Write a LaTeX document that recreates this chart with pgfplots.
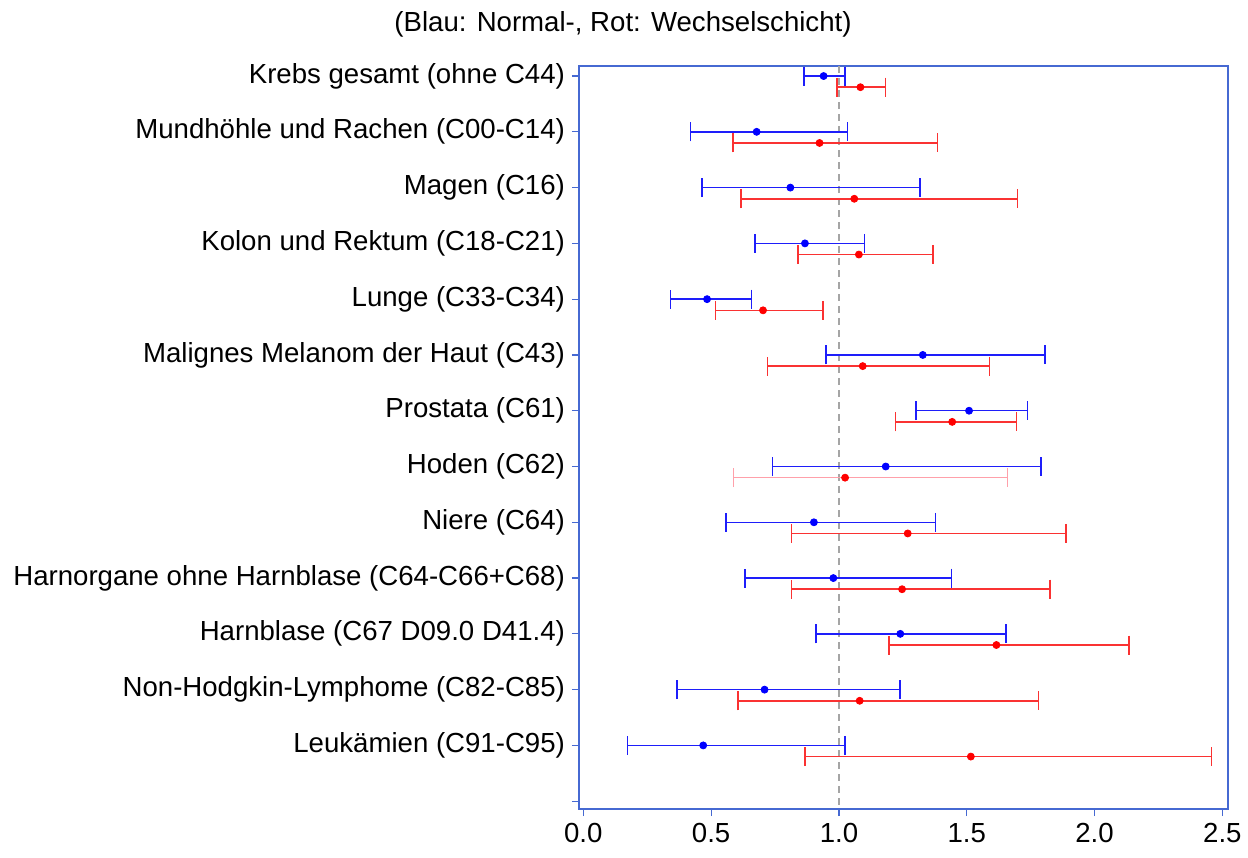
\documentclass[border=0pt]{standalone}
\usepackage{pgfplots}
\usepackage{pgfplotstable}
\pgfplotsset{compat=1.18}
\usepackage{fontspec}
\setmainfont{Liberation Sans}
\definecolor{axblue}{RGB}{70,105,210}
\definecolor{barblue}{RGB}{30,30,250}
\definecolor{barred}{RGB}{250,50,50}
\definecolor{barpink}{RGB}{255,160,170}
\definecolor{refgray}{RGB}{165,165,165}

\pgfplotstableread{
y est lo hi
0 0.940 0.864 1.024
1 0.678 0.419 1.033
2 0.810 0.464 1.317
3 0.867 0.672 1.100
4 0.484 0.341 0.657
5 1.328 0.950 1.807
6 1.509 1.302 1.738
7 1.183 0.741 1.790
8 0.902 0.559 1.378
9 0.978 0.633 1.440
10 1.240 0.910 1.653
11 0.709 0.366 1.238
12 0.469 0.172 1.024
}\blueT

\pgfplotstableread{
y est lo hi
0.2 1.084 0.993 1.183
1.2 0.924 0.586 1.386
2.2 1.060 0.617 1.698
3.2 1.078 0.840 1.367
4.2 0.703 0.517 0.938
5.2 1.093 0.721 1.588
6.2 1.443 1.221 1.695
8.2 1.269 0.814 1.888
9.2 1.247 0.814 1.826
10.2 1.616 1.195 2.134
11.2 1.081 0.605 1.781
12.2 1.516 0.867 2.457
}\redT

\pgfplotstableread{
y est lo hi
7.2 1.024 0.588 1.660
}\redH

\begin{document}
\begin{tikzpicture}
\useasboundingbox (-289.5pt,-24pt) rectangle (334.5pt,404.5pt);
\begin{axis}[
  at={(162.25pt,185.75pt)}, anchor=center,
  scale only axis, width=324.5pt, height=371.5pt,
  xmin=-0.017, xmax=2.522,
  ymin=-0.18, ymax=13.14, y dir=reverse,
  axis line style={axblue, line width=0.6pt},
  tick style={axblue, line width=0.6pt},
  tick align=outside, major tick length=3.5pt,
  xtick pos=bottom, ytick pos=left,
  xtick={0,0.5,1,1.5,2,2.5},
  ytick={0,1,2,3,4,5,6,7,8,9,10,11,12,13},
  yticklabels={Krebs gesamt (ohne C44),
    Mundhöhle und Rachen (C00-C14),
    Magen (C16),
    Kolon und Rektum (C18-C21),
    Lunge (C33-C34),
    Malignes Melanom der Haut (C43),
    Prostata (C61),
    Hoden (C62),
    Niere (C64),
    Harnorgane ohne Harnblase (C64-C66+C68),
    Harnblase (C67 D09.0 D41.4),
    Non-Hodgkin-Lymphome (C82-C85),
    Leukämien (C91-C95),{}},
  /pgf/number format/assume math mode=true,
  xticklabel style={/pgf/number format/.cd, fixed, fixed zerofill, precision=1},
  ticklabel style={font=\fontsize{13.8}{16}\selectfont, text=black},
  clip=false,
]
\addplot[refgray, line width=0.7pt, dash pattern=on 3.5pt off 2.5pt] coordinates {(1,-0.18) (1,13.14)};

\addplot[only marks, mark=*, mark size=1.75pt, mark options={fill=blue, draw=blue},
  error bars/.cd, x dir=both, x explicit,
  error bar style={barblue, line width=0.75pt},
  error mark options={barblue, mark size=4.75pt, line width=0.75pt, rotate=90}]
  table[x=est, y=y, x error plus expr=\thisrow{hi}-\thisrow{est}, x error minus expr=\thisrow{est}-\thisrow{lo}] {\blueT};

\addplot[only marks, mark=*, mark size=1.75pt, mark options={fill=red, draw=red},
  error bars/.cd, x dir=both, x explicit,
  error bar style={barred, line width=0.75pt},
  error mark options={barred, mark size=4.75pt, line width=0.75pt, rotate=90}]
  table[x=est, y=y, x error plus expr=\thisrow{hi}-\thisrow{est}, x error minus expr=\thisrow{est}-\thisrow{lo}] {\redT};

\addplot[only marks, mark=*, mark size=1.75pt, mark options={fill=red, draw=red},
  error bars/.cd, x dir=both, x explicit,
  error bar style={barpink, line width=0.75pt},
  error mark options={barpink, mark size=4.75pt, line width=0.75pt, rotate=90}]
  table[x=est, y=y, x error plus expr=\thisrow{hi}-\thisrow{est}, x error minus expr=\thisrow{est}-\thisrow{lo}] {\redH};
\end{axis}
\node[font=\fontsize{13.8}{16}\selectfont] at (22pt,392.5pt) {(Blau: Normal-, Rot: Wechselschicht)};
\end{tikzpicture}
\end{document}
